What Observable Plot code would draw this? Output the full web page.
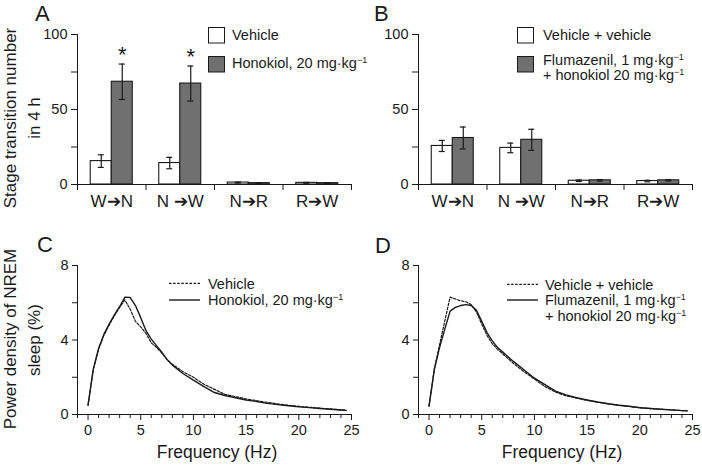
<!DOCTYPE html>
<html><head><meta charset="utf-8">
<script src="https://cdn.jsdelivr.net/npm/d3@7"></script>
<script src="https://cdn.jsdelivr.net/npm/@observablehq/plot@0.6"></script>
<style>
body{margin:0;background:#fff;}
#root{position:relative;width:702px;height:467px;overflow:hidden;font-family:"Liberation Sans",Arial,sans-serif;background:#fff;}
#root svg{position:absolute;}
</style></head><body><div id="root"></div>
<script>
// ---- data ----
const categories = ["W➔N", "N ➔W", "N➔R", "R➔W"];
const aVehicle = [15.6, 14.3, 1.3, 1.1];
const aVehicleSem = [4.2, 3.8, 0.3, 0.3];
const aHonokiol = [68.5, 67.3, 0.9, 0.9];
const aHonokiolSem = [11.8, 11.7, 0.3, 0.3];
const aSignificant = [true, true, false, false];
const bVehicle = [25.7, 24.4, 2.5, 2.3];
const bVehicleSem = [3.7, 3.2, 0.5, 0.5];
const bFlumazenil = [31.0, 29.8, 2.8, 2.8];
const bFlumazenilSem = [7.3, 7.0, 0.5, 0.5];
const barTicks = [0, 50, 100];
const barMinorTicks = [25, 75];

const frequency = [0,0.5,1,1.5,2,2.5,3,3.5,4,4.5,5,5.5,6,6.5,7,7.5,8,9,10,11,12,13,14,15,16,17,18,19,20,21,22,23,24,24.5];
const cVehicle = [0.5,2.4,3.5,4.25,4.8,5.3,5.75,6.15,5.65,5.0,4.7,4.35,3.85,3.6,3.3,2.95,2.7,2.3,2.0,1.62,1.35,1.08,0.96,0.84,0.74,0.65,0.57,0.5,0.44,0.39,0.34,0.3,0.25,0.23];
const cHonokiol = [0.5,2.45,3.55,4.3,4.85,5.35,5.8,6.3,6.28,5.85,5.2,4.5,4.05,3.7,3.35,2.95,2.65,2.2,1.85,1.5,1.18,1.02,0.9,0.78,0.7,0.6,0.53,0.47,0.41,0.37,0.32,0.28,0.24,0.22];
const dVehicle = [0.45,2.45,3.75,5.05,6.3,6.2,6.1,6.05,5.9,5.5,4.85,4.25,3.8,3.5,3.25,3.0,2.75,2.3,1.9,1.5,1.2,1.0,0.88,0.76,0.66,0.57,0.5,0.43,0.37,0.32,0.28,0.25,0.21,0.2];
const dFlumazenil = [0.45,2.4,3.6,4.6,5.55,5.75,5.85,5.9,5.85,5.6,5.0,4.4,3.95,3.6,3.35,3.1,2.85,2.4,1.95,1.6,1.25,1.05,0.9,0.78,0.67,0.58,0.5,0.44,0.36,0.32,0.28,0.25,0.21,0.2];
const powerTicks = [0, 4, 8];
const powerMinorTicks = [2, 6];
const freqTicks = [0, 5, 10, 15, 20, 25];
const freqMinorTicks = [-1,1,2,3,4,6,7,8,9,11,12,13,14,16,17,18,19,21,22,23,24];

// ---- layout / style ----
const INK = "#1a1a1a", GRAY = "#707070";
const FONT = "'Liberation Sans', Arial, sans-serif";
const ML = 77, FRAME_W = 274, MR = 6, W = ML + FRAME_W + MR;
const BW = FRAME_W / categories.length;
const BAR = 21, PAD = (BW - 2 * BAR) / 2, CAP = 3;
const baseStyle = {fontFamily: FONT, color: INK, background: "transparent", overflow: "visible"};

function barPanel(s1, e1, s2, e2, stars) {
  const r1 = categories.map((c, i) => ({cat: c, v: s1[i], lo: s1[i] - e1[i], hi: s1[i] + e1[i]}));
  const r2 = categories.map((c, i) => ({cat: c, v: s2[i], lo: s2[i] - e2[i], hi: s2[i] + e2[i], star: stars ? stars[i] : false}));
  const cap1 = {insetLeft: PAD + BAR / 2 - CAP, insetRight: PAD + 1.5 * BAR - CAP};
  const cap2 = {insetLeft: PAD + 1.5 * BAR - CAP, insetRight: PAD + BAR / 2 - CAP};
  return Plot.plot({
    width: W, height: 225, marginLeft: ML, marginRight: MR, marginTop: 34, marginBottom: 41,
    style: baseStyle,
    x: {type: "band", domain: categories, padding: 0, round: false},
    y: {domain: [0, 100]},
    marks: [
      Plot.barY(r1, {x: "cat", y: "v", fill: "white", stroke: INK, strokeWidth: 1.1, insetLeft: PAD, insetRight: PAD + BAR}),
      Plot.barY(r2, {x: "cat", y: "v", fill: GRAY, stroke: INK, strokeWidth: 1.1, insetLeft: PAD + BAR, insetRight: PAD}),
      Plot.ruleX(r1, {x: "cat", y1: "lo", y2: "hi", dx: -BAR / 2, stroke: INK, strokeWidth: 1.2}),
      Plot.tickY(r1, {x: "cat", y: "lo", stroke: INK, strokeWidth: 1.2, ...cap1}),
      Plot.tickY(r1, {x: "cat", y: "hi", stroke: INK, strokeWidth: 1.2, ...cap1}),
      Plot.ruleX(r2, {x: "cat", y1: "lo", y2: "hi", dx: BAR / 2, stroke: INK, strokeWidth: 1.2}),
      Plot.tickY(r2, {x: "cat", y: "lo", stroke: INK, strokeWidth: 1.2, ...cap2}),
      Plot.tickY(r2, {x: "cat", y: "hi", stroke: INK, strokeWidth: 1.2, ...cap2}),
      Plot.text(r2.filter(d => d.star), {x: "cat", y: "hi", text: () => "*", dx: BAR / 2, dy: -9, fontSize: 22, fill: INK}),
      Plot.ruleY([0], {stroke: INK, strokeWidth: 1}),
      Plot.ruleX([categories[0]], {dx: -BW / 2, stroke: INK, strokeWidth: 1}),
      Plot.axisY({ticks: barTicks, tickSize: 6, tickPadding: 4, fontSize: 14.5, label: null, stroke: INK}),
      Plot.axisY({ticks: barMinorTicks, tickSize: 6, tickFormat: () => "", label: null, stroke: INK}),
      Plot.axisX({tickSize: 0, tickPadding: 10, fontSize: 17, label: null}),
      Plot.axisX({tickSize: 6, tickFormat: () => "", label: null, dx: -BW / 2, stroke: INK}),
      Plot.axisX({ticks: [categories[categories.length - 1]], tickSize: 6, tickFormat: () => "", label: null, dx: BW / 2, stroke: INK})
    ]
  });
}

function linePanel(dashed, solid) {
  const rows = frequency.map((f, i) => ({f, a: dashed[i], b: solid[i]}));
  return Plot.plot({
    width: W, height: 247, marginLeft: ML, marginRight: MR, marginTop: 45, marginBottom: 53,
    style: baseStyle,
    x: {domain: [-1, 25]},
    y: {domain: [0, 8]},
    marks: [
      Plot.ruleY([0], {stroke: INK, strokeWidth: 1}),
      Plot.ruleX([-1], {stroke: INK, strokeWidth: 1}),
      Plot.axisY({ticks: powerTicks, tickSize: 5, tickPadding: 4, fontSize: 14.5, label: null, stroke: INK}),
      Plot.axisY({ticks: powerMinorTicks, tickSize: 5, tickFormat: () => "", label: null, stroke: INK}),
      Plot.axisX({ticks: freqTicks, tickSize: 6, tickPadding: 4, fontSize: 14.5, label: null, stroke: INK}),
      Plot.axisX({ticks: freqMinorTicks, tickSize: 4, tickFormat: () => "", label: null, stroke: INK}),
      Plot.line(rows, {x: "f", y: "a", stroke: INK, strokeWidth: 1.2, strokeDasharray: "2.5,1.6"}),
      Plot.line(rows, {x: "f", y: "b", stroke: INK, strokeWidth: 1.4})
    ]
  });
}

const root = document.getElementById("root");
function place(svg, left, top) { svg.style.left = left + "px"; svg.style.top = top + "px"; root.appendChild(svg); }
place(barPanel(aVehicle, aVehicleSem, aHonokiol, aHonokiolSem, aSignificant), 0, 0);
place(barPanel(bVehicle, bVehicleSem, bFlumazenil, bFlumazenilSem, null), 341, 0);
place(linePanel(cVehicle, cHonokiol), 0, 220);
place(linePanel(dVehicle, dFlumazenil), 341, 220);

// ---- annotations: panel letters, axis titles, legends ----
const sup = '<tspan font-size="9" dy="-5">−1</tspan>';
const overlay = `
<svg width="702" height="467" style="left:0;top:0" font-family="${FONT}" fill="${INK}">
  <g font-size="22">
    <text x="35" y="21">A</text><text x="374" y="21">B</text>
    <text x="37" y="252">C</text><text x="375" y="253">D</text>
  </g>
  <g font-size="17" text-anchor="middle">
    <text transform="translate(15.5,118) rotate(-90)">Stage transition number</text>
    <text transform="translate(39.5,118) rotate(-90)">in 4 h</text>
    <text transform="translate(15.5,339) rotate(-90)">Power density of NREM</text>
    <text transform="translate(39.5,340) rotate(-90)">sleep (%)</text>
  </g>
  <g font-size="17.5" text-anchor="middle">
    <text x="217" y="458">Frequency (Hz)</text>
    <text x="562" y="458">Frequency (Hz)</text>
  </g>
  <g font-size="14.5">
    <rect x="208.5" y="27.5" width="16" height="15.5" fill="white" stroke="${INK}"/>
    <rect x="208.5" y="56.5" width="16" height="15.5" fill="${GRAY}" stroke="${INK}"/>
    <text x="232" y="39.7">Vehicle</text>
    <text x="232" y="67.9">Honokiol, 20 mg·kg${sup}</text>
    <rect x="517.5" y="27.5" width="16" height="15.5" fill="white" stroke="${INK}"/>
    <rect x="517.5" y="56.5" width="16" height="15.5" fill="${GRAY}" stroke="${INK}"/>
    <text x="543" y="39.7">Vehicle + vehicle</text>
    <text x="543" y="64.5">Flumazenil, 1 mg·kg${sup}</text>
    <text x="543" y="79.5">+ honokiol 20 mg·kg${sup}</text>
    <line x1="169" x2="200" y1="283.3" y2="283.3" stroke="${INK}" stroke-width="1.2" stroke-dasharray="2.5,1.6"/>
    <line x1="169" x2="200" y1="300" y2="300" stroke="${INK}" stroke-width="1.4"/>
    <text x="208" y="288.5">Vehicle</text>
    <text x="208" y="305.2">Honokiol, 20 mg·kg${sup}</text>
    <line x1="507" x2="538" y1="284.3" y2="284.3" stroke="${INK}" stroke-width="1.2" stroke-dasharray="2.5,1.6"/>
    <line x1="507" x2="538" y1="300" y2="300" stroke="${INK}" stroke-width="1.4"/>
    <text x="545" y="289.5">Vehicle + vehicle</text>
    <text x="545" y="305.2">Flumazenil, 1 mg·kg${sup}</text>
    <text x="545" y="320.5">+ honokiol 20 mg·kg${sup}</text>
  </g>
</svg>`;
root.insertAdjacentHTML("beforeend", overlay);
</script></body></html>
